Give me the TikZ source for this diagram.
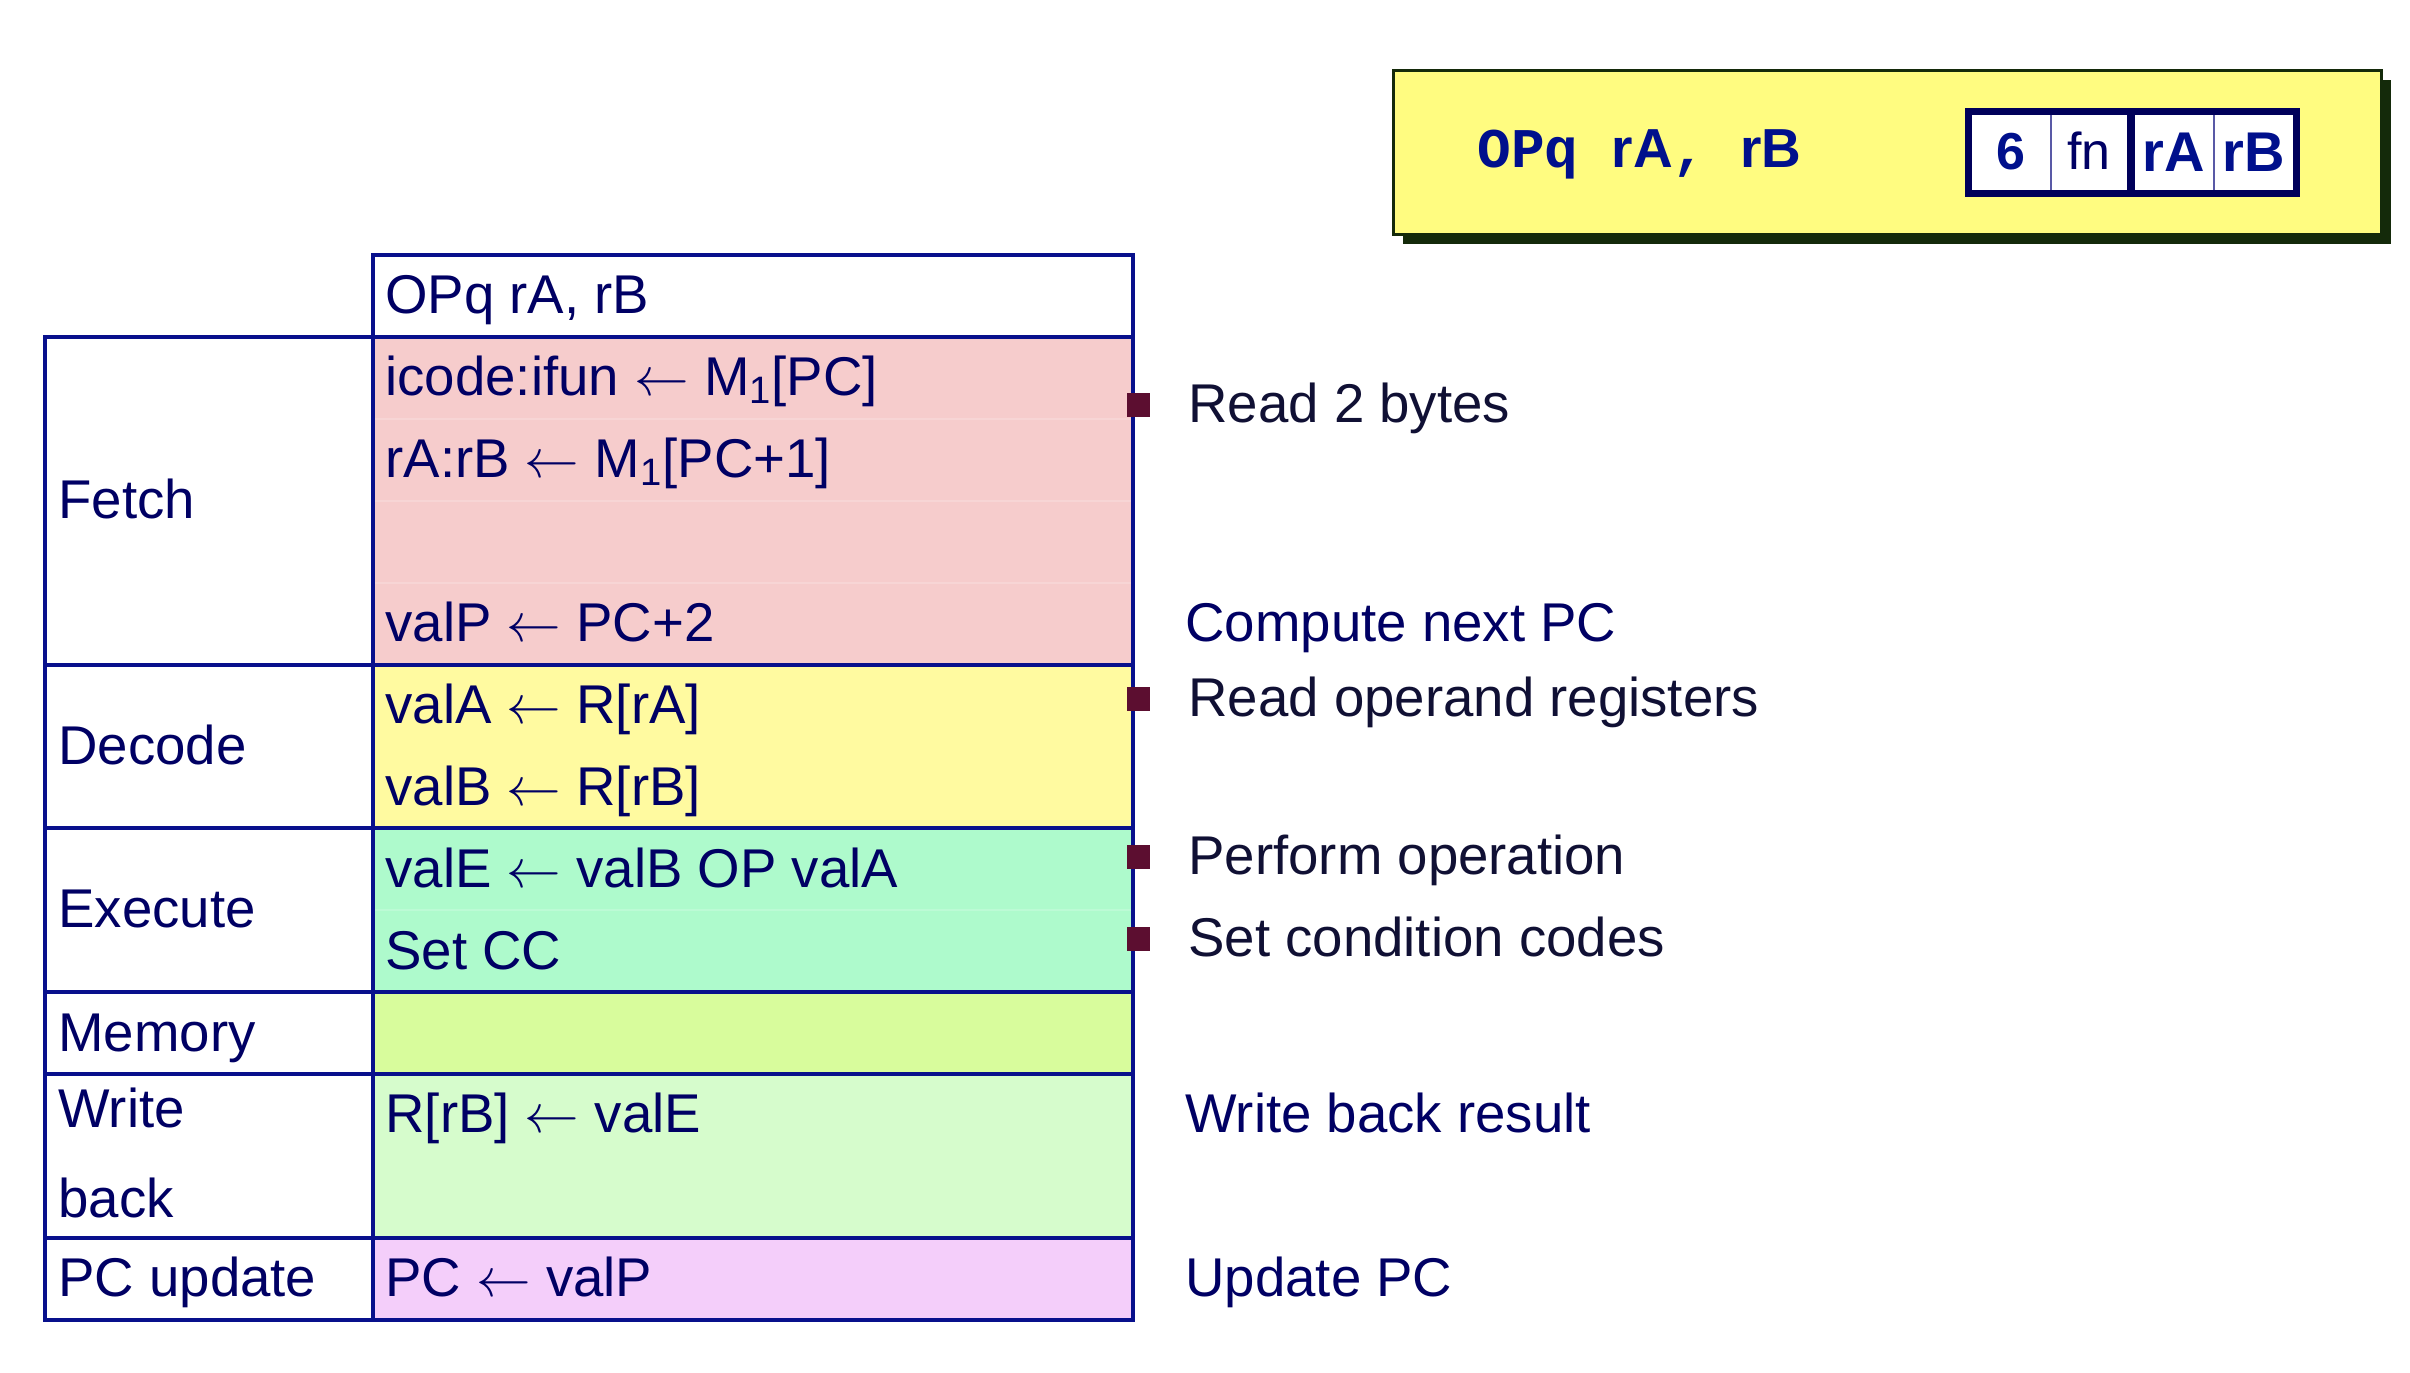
\RequirePackage{fix-cm}
\documentclass[tikz,border=0pt]{standalone}
\usepackage{fontspec}
\setmainfont{Liberation Sans}
\newfontfamily\monofont{Liberation Mono}
\newfontfamily\helvfont{Liberation Sans}
\definecolor{navy}{RGB}{0,0,100}
\definecolor{notedark}{RGB}{16,16,52}
\definecolor{tblblue}{RGB}{8,16,140}
\definecolor{bulletc}{RGB}{92,14,48}
\definecolor{fetchc}{RGB}{246,204,204}
\definecolor{decodec}{RGB}{255,250,160}
\definecolor{execc}{RGB}{174,250,204}
\definecolor{memc}{RGB}{216,252,156}
\definecolor{wbc}{RGB}{214,252,204}
\definecolor{pcc}{RGB}{244,206,250}
\definecolor{titley}{RGB}{255,252,128}
\definecolor{titleedge}{RGB}{20,42,10}
\definecolor{titleblue}{RGB}{0,16,140}
\definecolor{encedge}{RGB}{0,0,90}
\newcommand\larr{\ensuremath{\leftarrow}}
\newcommand\subone{\textsubscript{1}}
\tikzset{
  tline/.style={draw=tblblue, line width=2.2pt, line cap=rect},
  faint/.style={draw=white, draw opacity=0.18, line width=0.8pt},
  cell/.style={anchor=base west, inner sep=0pt, text=navy, font=\fontsize{27.3}{32}\selectfont},
  note/.style={cell, text=notedark},
  bsq/.style={fill=bulletc, minimum width=11.5pt, minimum height=12pt, inner sep=0pt, draw=none},
  enc/.style={anchor=base, inner sep=0pt, text=titleblue},
  encthin/.style={draw=gray!70!blue, line width=0.6pt},
  ttl/.style={anchor=base west, inner sep=0pt, text=titleblue}
}
\begin{document}
\begin{tikzpicture}[x=0.5pt,y=-0.5pt]
\useasboundingbox[fill=white] (0,0) rectangle (2410,1372);

% ---- title box ----
\fill[titleedge] (1403,80) rectangle (2391,244);
\draw[fill=titley, draw=titleedge, line width=1.5pt] (1393,70) rectangle (2381,234);
\node[ttl, font=\monofont\bfseries\fontsize{28}{30}\selectfont] (title) at (1477,167)
  {OPq {\helvfont\bfseries\fontsize{27.5}{30}\selectfont rA}, {\helvfont\bfseries\fontsize{27.5}{30}\selectfont rB}};

% encoding box
\fill[white] (1968,111) rectangle (2297,194);
\draw[encthin] (2051,111) -- (2051,194);
\draw[encthin] (2214,111) -- (2214,194);
\draw[draw=encedge, line width=4pt] (2131,111) -- (2131,194);
\draw[draw=encedge, line width=3.5pt] (1968.5,111.5) rectangle (2296.5,193.5);
\node[enc, font=\fontsize{26}{30}\selectfont\bfseries] (e6) at (2011,169) {6};
\node[enc, text=navy, font=\fontsize{26}{30}\selectfont] (efn) at (2089,169) {fn};
\node[enc, font=\fontsize{28}{30}\selectfont\bfseries] (erA) at (2174,171) {rA};
\node[enc, font=\fontsize{28}{30}\selectfont\bfseries] (erB) at (2254,171) {rB};

% ---- table fills ----
\fill[fetchc]  (373,337)  rectangle (1133,665);
\fill[decodec] (373,665)  rectangle (1133,828);
\fill[execc]   (373,828)  rectangle (1133,992);
\fill[memc]    (373,992)  rectangle (1133,1074);
\fill[wbc]     (373,1074) rectangle (1133,1238);
\fill[pcc]     (373,1238) rectangle (1133,1320);

% faint sub-row lines
\draw[faint] (373,419) -- (1133,419);
\draw[faint] (373,501) -- (1133,501);
\draw[faint] (373,583) -- (1133,583);
\draw[faint] (373,910) -- (1133,910);

% ---- table lines ----
\draw[tline] (373,255) -- (1133,255);
\foreach \yy in {337,665,828,992,1074,1238,1320}
  \draw[tline] (45,\yy) -- (1133,\yy);
\draw[tline] (45,337) -- (45,1320);
\draw[tline] (373,255) -- (373,1320);
\draw[tline] (1133,255) -- (1133,1320);

% ---- left labels ----
\node[cell] (lfetch) at (58,518) {Fetch};
\node[cell] (ldecode) at (58,764) {Decode};
\node[cell] (lexec) at (58,927) {Execute};
\node[cell] (lmem) at (58,1051) {Memory};
\node[cell] (lwrite) at (58,1127) {Write};
\node[cell] (lback) at (58,1217) {back};
\node[cell] (lpc) at (58,1296) {PC update};

% ---- middle column ----
\node[cell] (hdr) at (385,313) {OPq rA, rB};
\node[cell] (f1) at (385,395) {icode:ifun \larr{} M\subone[PC]};
\node[cell] (f2) at (385,477) {rA:rB \larr{} M\subone[PC+1]};
\node[cell] (f4) at (385,641) {valP \larr{} PC+2};
\node[cell] (d1) at (385,723) {valA \larr{} R[rA]};
\node[cell] (d2) at (385,805) {valB \larr{} R[rB]};
\node[cell] (x1) at (385,887) {valE \larr{} valB OP valA};
\node[cell] (x2) at (385,969) {Set CC};
\node[cell] (w1) at (385,1132) {R[rB] \larr{} valE};
\node[cell] (p1) at (385,1296) {PC \larr{} valP};

% ---- bullets ----
\node[bsq] (b1) at (1138.5,405) {};
\node[bsq] (b2) at (1138.5,699) {};
\node[bsq] (b3) at (1138.5,857) {};
\node[bsq] (b4) at (1138.5,939) {};

% ---- notes ----
\node[note] (n1) at (1188,422) {Read 2 bytes};
\node[cell] (n2) at (1185,641) {Compute next PC};
\node[note] (n3) at (1188,716) {Read operand registers};
\node[note] (n4) at (1188,874) {Perform operation};
\node[note] (n5) at (1188,956) {Set condition codes};
\node[cell] (n6) at (1185,1132) {Write back result};
\node[cell] (n7) at (1185,1296) {Update PC};
\end{tikzpicture}
\end{document}
